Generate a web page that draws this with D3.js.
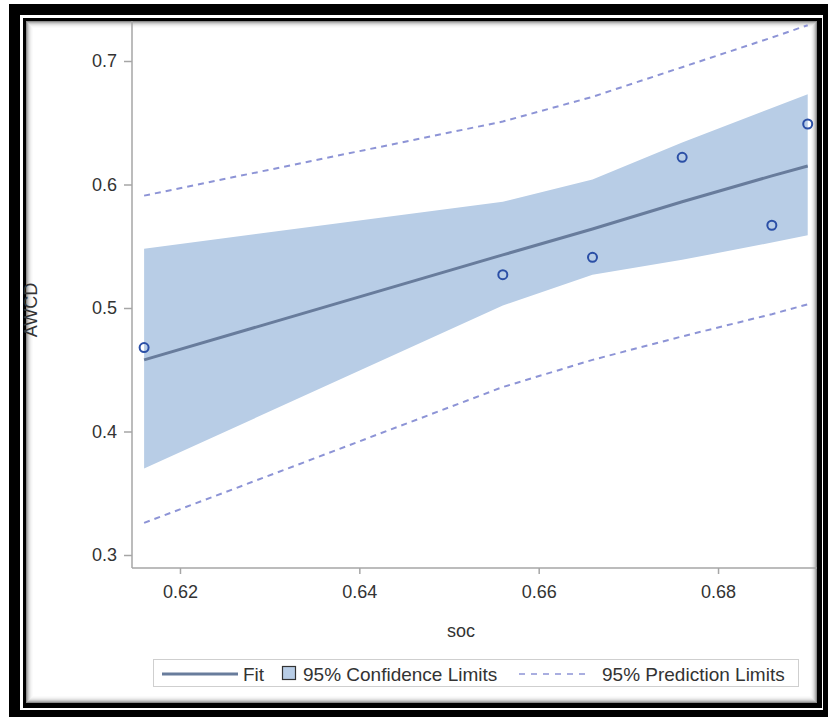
<!DOCTYPE html>
<html>
<head>
<meta charset="utf-8">
<script src="https://cdn.jsdelivr.net/npm/d3@7"></script>
<style>
  html, body { margin: 0; padding: 0; background: #fff; }
  svg { display: block; font-family: "Liberation Sans", Arial, sans-serif; }
</style>
</head>
<body>
<div id="chart"></div>
<script>
// values
const soc = [0.616, 0.656, 0.666, 0.676, 0.686, 0.690];
const awcd = [0.468, 0.527, 0.541, 0.622, 0.567, 0.649];
const fit = [0.458, 0.543, 0.564, 0.586, 0.607, 0.615];
const clUpper = [0.548, 0.586, 0.604, 0.634, 0.662, 0.673];
const clLower = [0.370, 0.502, 0.527, 0.539, 0.553, 0.559];
const plUpper = [0.591, 0.651, 0.671, 0.695, 0.719, 0.729];
const plLower = [0.326, 0.436, 0.458, 0.477, 0.495, 0.503];
const xTicks = [0.62, 0.64, 0.66, 0.68];
const yTicks = [0.3, 0.4, 0.5, 0.6, 0.7];

const width = 828, height = 717;
const bandColor = "#b8cde6";
const fitColor = "#687c9c";
const dotColor = "#2b4fa6";
const predColor = "#8d94d6";
const axisColor = "#a6a6a6";
const textColor = "#333";

const svg = d3.select("#chart").append("svg")
  .attr("width", width)
  .attr("height", height);

// frame: thick black, white gap, thin black, inner shadow
svg.append("rect").attr("x", 9).attr("y", 4).attr("width", 830).attr("height", 720).attr("fill", "#000");
svg.append("rect").attr("x", 20).attr("y", 15).attr("width", 803).attr("height", 695).attr("fill", "#fff");
svg.append("rect").attr("x", 23).attr("y", 18).attr("width", 799).attr("height", 690).attr("fill", "#000");
svg.append("rect").attr("x", 26).attr("y", 21).attr("width", 791).attr("height", 682).attr("fill", "#fff");

const shadow = [0.45, 0.3, 0.2, 0.12, 0.07, 0.035, 0.015];
shadow.forEach((o, i) => {
  svg.append("rect")
    .attr("x", 26.5 + i).attr("y", 21.5 + i)
    .attr("width", 790 - 2 * i).attr("height", 681 - 2 * i)
    .attr("fill", "none")
    .attr("stroke", "#000")
    .attr("stroke-opacity", o);
});

svg.append("clipPath").attr("id", "frameclip")
  .append("rect").attr("x", 26).attr("y", 21).attr("width", 791).attr("height", 682);

const x = d3.scaleLinear().domain([0.61465, 0.69137]).range([132, 820]);
const y = d3.scaleLinear().domain([0.28947, 0.73725]).range([568, 15]);

const g = svg.append("g").attr("clip-path", "url(#frameclip)");

const rows = soc.map((s, i) => ({
  x: s, y: awcd[i], fit: fit[i],
  cu: clUpper[i], cl: clLower[i], pu: plUpper[i], pl: plLower[i]
}));

// confidence band
g.append("path")
  .datum(rows)
  .attr("fill", bandColor)
  .attr("d", d3.area().x(d => x(d.x)).y0(d => y(d.cl)).y1(d => y(d.cu)));

// prediction limits
["pu", "pl"].forEach(k => {
  g.append("path")
    .datum(rows)
    .attr("fill", "none")
    .attr("stroke", predColor)
    .attr("stroke-width", 2)
    .attr("stroke-dasharray", "6,5")
    .attr("d", d3.line().x(d => x(d.x)).y(d => y(d[k])));
});

// fit line
g.append("path")
  .datum(rows)
  .attr("fill", "none")
  .attr("stroke", fitColor)
  .attr("stroke-width", 3)
  .attr("d", d3.line().x(d => x(d.x)).y(d => y(d.fit)));

// points
g.selectAll("circle.pt")
  .data(rows)
  .enter()
  .append("circle")
  .attr("class", "pt")
  .attr("cx", d => x(d.x))
  .attr("cy", d => y(d.y))
  .attr("r", 4.5)
  .attr("fill", "none")
  .attr("stroke", dotColor)
  .attr("stroke-width", 2);

// axes
const yAxis = g.append("g")
  .attr("transform", "translate(132,0)")
  .call(d3.axisLeft(y).tickValues(yTicks).tickFormat(d3.format(".1f")).tickSize(8).tickPadding(7));
const xAxis = g.append("g")
  .attr("transform", "translate(0,568)")
  .call(d3.axisBottom(x).tickValues(xTicks).tickFormat(d3.format(".2f")).tickSize(6).tickPadding(11));

[yAxis, xAxis].forEach(a => {
  a.select(".domain").attr("stroke", axisColor).attr("stroke-width", 1.5);
  a.selectAll(".tick line").attr("stroke", axisColor).attr("stroke-width", 1.5);
  a.selectAll(".tick text")
    .attr("fill", textColor)
    .style("font-size", "18px")
    .style("font-family", "'Liberation Sans', Arial, sans-serif");
});
// extend axis lines to the frame
yAxis.select(".domain").attr("d", "M0,0V568");
xAxis.select(".domain").attr("d", "M132,0H830");

// axis titles
svg.append("text")
  .attr("x", 461).attr("y", 637)
  .attr("text-anchor", "middle")
  .attr("fill", textColor)
  .style("font-size", "18px")
  .text("soc");

svg.append("text")
  .attr("transform", "translate(37,310) rotate(-90)")
  .attr("text-anchor", "middle")
  .attr("fill", textColor)
  .style("font-size", "18px")
  .text("AWCD");

// legend
const leg = svg.append("g");
leg.append("rect")
  .attr("x", 153.5).attr("y", 659.5).attr("width", 645).attr("height", 27)
  .attr("fill", "#fff").attr("stroke", "#cfcfcf");
leg.append("line")
  .attr("x1", 162).attr("x2", 238).attr("y1", 674).attr("y2", 674)
  .attr("stroke", fitColor).attr("stroke-width", 3);
leg.append("text").attr("x", 243).attr("y", 680.5)
  .attr("fill", textColor).style("font-size", "19px").text("Fit");
leg.append("rect")
  .attr("x", 282.5).attr("y", 666.5).attr("width", 13).attr("height", 13)
  .attr("fill", bandColor).attr("stroke", "#333").attr("stroke-width", 1.2);
leg.append("text").attr("x", 303).attr("y", 680.5)
  .attr("fill", textColor).style("font-size", "19px").text("95% Confidence Limits");
leg.append("line")
  .attr("x1", 519).attr("x2", 586).attr("y1", 674).attr("y2", 674)
  .attr("stroke", predColor).attr("stroke-width", 1.5).attr("stroke-dasharray", "6,6");
leg.append("text").attr("x", 602).attr("y", 680.5)
  .attr("fill", textColor).style("font-size", "19px").text("95% Prediction Limits");
</script>
</body>
</html>
